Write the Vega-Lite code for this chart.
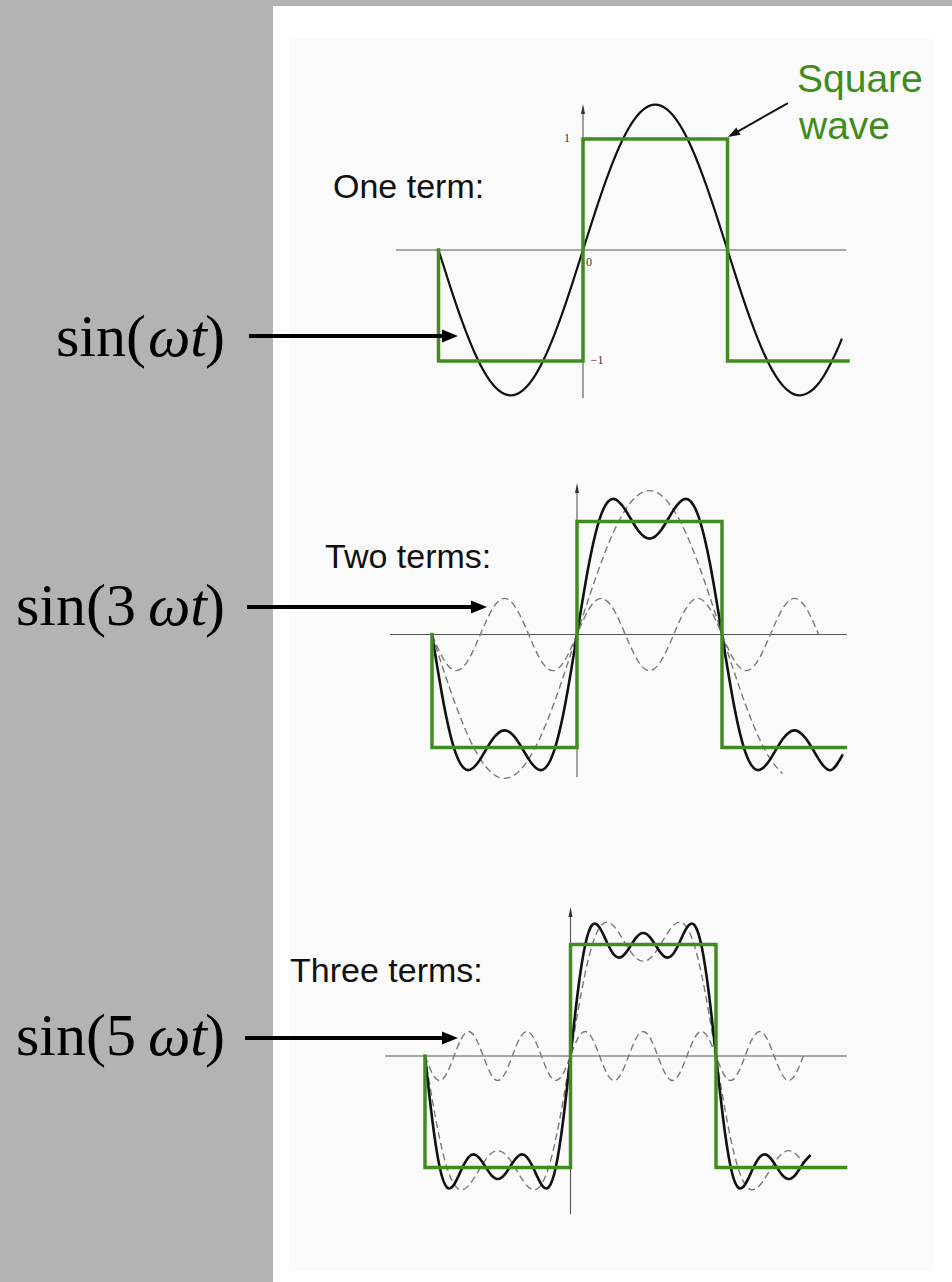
{
"$schema":"https://vega.github.io/schema/vega-lite/v6.json",
"width":952,"height":1282,"padding":0,
"autosize":{"type":"none"},
"background":"#b3b3b3",
"config":{"view":{"stroke":null}},
"resolve":{"scale":{"x":"independent","y":"independent"}},
"layer":[
{
"data":{"values":[
{"s":"bgw","t":-2.1453,"t2":2.5536,"a":2.1982,"a2":-9.2973},
{"s":"bgi","t":-2.0346,"t2":2.4291,"a":1.9099,"a2":-9.1982},
{"s":"hax","t":-1.294,"t2":1.82,"a":0},
{"s":"vax","t":0,"a":-1.333,"a2":1.2703},
{"s":"vh","t":0,"a":1.2703},
{"s":"b","t":-1,"a":0},{"s":"b","t":-0.9167,"a":-0.339},{"s":"b","t":-0.8333,"a":-0.655},{"s":"b","t":-0.75,"a":-0.9263},{"s":"b","t":-0.6667,"a":-1.1345},{"s":"b","t":-0.5833,"a":-1.2653},{"s":"b","t":-0.5,"a":-1.31},{"s":"b","t":-0.4167,"a":-1.2653},{"s":"b","t":-0.3333,"a":-1.1345},{"s":"b","t":-0.25,"a":-0.9263},{"s":"b","t":-0.1667,"a":-0.655},{"s":"b","t":-0.0833,"a":-0.339},
{"s":"b","t":0,"a":0},{"s":"b","t":0.0833,"a":0.339},{"s":"b","t":0.1667,"a":0.655},{"s":"b","t":0.25,"a":0.9263},{"s":"b","t":0.3333,"a":1.1345},{"s":"b","t":0.4167,"a":1.2653},{"s":"b","t":0.5,"a":1.31},{"s":"b","t":0.5833,"a":1.2653},{"s":"b","t":0.6667,"a":1.1345},{"s":"b","t":0.75,"a":0.9263},{"s":"b","t":0.8333,"a":0.655},{"s":"b","t":0.9167,"a":0.339},
{"s":"b","t":1,"a":0},{"s":"b","t":1.0833,"a":-0.339},{"s":"b","t":1.1667,"a":-0.655},{"s":"b","t":1.25,"a":-0.9263},{"s":"b","t":1.3333,"a":-1.1345},{"s":"b","t":1.4167,"a":-1.2653},{"s":"b","t":1.5,"a":-1.31},{"s":"b","t":1.5833,"a":-1.2653},{"s":"b","t":1.6667,"a":-1.1345},{"s":"b","t":1.75,"a":-0.9263},{"s":"b","t":1.7917,"a":-0.7975},
{"s":"g","i":0,"t":-1,"a":0},{"s":"g","i":1,"t":-1,"a":-1},{"s":"g","i":2,"t":0,"a":-1},{"s":"g","i":3,"t":0,"a":1},{"s":"g","i":4,"t":1,"a":1},{"s":"g","i":5,"t":1,"a":-1},{"s":"g","i":6,"t":1.834,"a":-1},
{"s":"title","t":-1.73,"a":0.4685,"label":"One term:"},
{"s":"tick","t":-0.1107,"a":1.009,"label":"1"},
{"s":"tick","t":0.0415,"a":-0.108,"label":"0"},
{"s":"tick","t":0.0969,"a":-0.991,"label":"−1"},
{"s":"l1","t":-3.0242,"a":-0.955,"label":"sin("},
{"s":"l2","t":-3.0104,"a":-0.955,"label":"ωt"},
{"s":"l3","t":-2.6159,"a":-0.955,"label":")"},
{"s":"ar","t":-2.3114,"t2":-0.9204,"a":-0.7748},
{"s":"ah","t":-0.9204,"a":-0.7748},
{"s":"dr","t":1.4187,"a":1.3243,"t2":1.0394,"a2":1.045},
{"s":"dh","t":1.0394,"a":1.045},
{"s":"sq","t":1.481,"a":1.4234,"label":"Square"},
{"s":"sq","t":1.4948,"a":1.0,"label":"wave"}
]},
"encoding":{
"x":{"field":"t","type":"quantitative","scale":{"domain":[-4.0346,2.5536],"nice":false,"zero":false},"axis":null},
"y":{"field":"a","type":"quantitative","scale":{"domain":[-9.2973,2.2523],"nice":false,"zero":false},"axis":null}
},
"layer":[
{"transform":[{"filter":"datum.s==='bgw'"}],"mark":{"type":"rect","color":"#ffffff"},"encoding":{"x2":{"field":"t2"},"y2":{"field":"a2"}}},
{"transform":[{"filter":"datum.s==='bgi'"}],"mark":{"type":"rect","color":"#fafafa"},"encoding":{"x2":{"field":"t2"},"y2":{"field":"a2"}}},
{"transform":[{"filter":"datum.s==='hax'"}],"mark":{"type":"rule","color":"#555555","strokeWidth":1.1},"encoding":{"x2":{"field":"t2"}}},
{"transform":[{"filter":"datum.s==='vax'"}],"mark":{"type":"rule","color":"#555555","strokeWidth":1.1},"encoding":{"y2":{"field":"a2"}}},
{"transform":[{"filter":"datum.s==='vh'"}],"mark":{"type":"point","shape":"M0,-1L0.4,1L-0.4,1Z","size":100,"filled":true,"color":"#333333","opacity":1,"strokeWidth":0}},
{"transform":[{"filter":"datum.s==='b'"}],"mark":{"type":"line","color":"#111111","strokeWidth":2.2,"interpolate":"natural"}},
{"transform":[{"filter":"datum.s==='g'"}],"mark":{"type":"line","color":"#418c20","strokeWidth":3.5,"strokeJoin":"miter","strokeCap":"square"},"encoding":{"order":{"field":"i","type":"quantitative"}}},
{"transform":[{"filter":"datum.s==='title'"}],"mark":{"type":"text","font":"Liberation Sans","fontSize":34,"align":"left","baseline":"alphabetic","color":"#111111"},"encoding":{"text":{"field":"label"}}},
{"transform":[{"filter":"datum.s==='tick'"}],"mark":{"type":"text","font":"Liberation Serif","fontSize":12,"align":"center","baseline":"middle","color":"#333333"},"encoding":{"text":{"field":"label"}}},
{"transform":[{"filter":"datum.s==='sq'"}],"mark":{"type":"text","font":"Liberation Sans","fontSize":39,"align":"left","baseline":"alphabetic","color":"#418c20"},"encoding":{"text":{"field":"label"}}},
{"transform":[{"filter":"datum.s==='l1'"}],"mark":{"type":"text","font":"Liberation Serif","fontSize":60,"align":"right","baseline":"alphabetic","color":"#000000"},"encoding":{"text":{"field":"label"}}},
{"transform":[{"filter":"datum.s==='l2'"}],"mark":{"type":"text","font":"Liberation Serif","fontStyle":"italic","fontSize":60,"align":"left","baseline":"alphabetic","color":"#000000"},"encoding":{"text":{"field":"label"}}},
{"transform":[{"filter":"datum.s==='l3'"}],"mark":{"type":"text","font":"Liberation Serif","fontSize":60,"align":"left","baseline":"alphabetic","color":"#000000"},"encoding":{"text":{"field":"label"}}},
{"transform":[{"filter":"datum.s==='ar'"}],"mark":{"type":"rule","color":"#000000","strokeWidth":4},"encoding":{"x2":{"field":"t2"}}},
{"transform":[{"filter":"datum.s==='ah'"}],"mark":{"type":"point","shape":"M1,0L-1,-0.8L-1,0.8Z","size":256,"filled":true,"color":"#000000","opacity":1,"strokeWidth":0}},
{"transform":[{"filter":"datum.s==='dr'"}],"mark":{"type":"rule","color":"#111111","strokeWidth":2},"encoding":{"x2":{"field":"t2"},"y2":{"field":"a2"}}},
{"transform":[{"filter":"datum.s==='dh'"}],"mark":{"type":"point","shape":"M1,0L-1,-0.7L-1,0.7Z","size":144,"angle":150.4,"filled":true,"color":"#111111","opacity":1,"strokeWidth":0}}
]
},
{
"data":{"values":[
{"s":"hax","t":-1.2897,"t2":1.8621,"a":0},
{"s":"vax","t":0,"a":-1.261,"a2":1.2965},
{"s":"vh","t":0,"a":1.2965},
{"s":"b","t":-1,"a":0},{"s":"b","t":-0.9167,"a":-0.6296},{"s":"b","t":-0.8333,"a":-1.061},{"s":"b","t":-0.75,"a":-1.2004},{"s":"b","t":-0.6667,"a":-1.1026},{"s":"b","t":-0.5833,"a":-0.9297},{"s":"b","t":-0.5,"a":-0.8488},{"s":"b","t":-0.4167,"a":-0.9297},{"s":"b","t":-0.3333,"a":-1.1026},{"s":"b","t":-0.25,"a":-1.2004},{"s":"b","t":-0.1667,"a":-1.061},{"s":"b","t":-0.0833,"a":-0.6296},
{"s":"b","t":0,"a":0},{"s":"b","t":0.0833,"a":0.6296},{"s":"b","t":0.1667,"a":1.061},{"s":"b","t":0.25,"a":1.2004},{"s":"b","t":0.3333,"a":1.1026},{"s":"b","t":0.4167,"a":0.9297},{"s":"b","t":0.5,"a":0.8488},{"s":"b","t":0.5833,"a":0.9297},{"s":"b","t":0.6667,"a":1.1026},{"s":"b","t":0.75,"a":1.2004},{"s":"b","t":0.8333,"a":1.061},{"s":"b","t":0.9167,"a":0.6296},
{"s":"b","t":1,"a":0},{"s":"b","t":1.0833,"a":-0.6296},{"s":"b","t":1.1667,"a":-1.061},{"s":"b","t":1.25,"a":-1.2004},{"s":"b","t":1.3333,"a":-1.1026},{"s":"b","t":1.4167,"a":-0.9297},{"s":"b","t":1.5,"a":-0.8488},{"s":"b","t":1.5833,"a":-0.9297},{"s":"b","t":1.6667,"a":-1.1026},{"s":"b","t":1.75,"a":-1.2004},{"s":"b","t":1.8333,"a":-1.061},
{"s":"d1","t":-1,"a":0},{"s":"d1","t":-0.9167,"a":-0.3295},{"s":"d1","t":-0.8333,"a":-0.6366},{"s":"d1","t":-0.75,"a":-0.9003},{"s":"d1","t":-0.6667,"a":-1.1026},{"s":"d1","t":-0.5833,"a":-1.2298},{"s":"d1","t":-0.5,"a":-1.2732},{"s":"d1","t":-0.4167,"a":-1.2298},{"s":"d1","t":-0.3333,"a":-1.1026},{"s":"d1","t":-0.25,"a":-0.9003},{"s":"d1","t":-0.1667,"a":-0.6366},{"s":"d1","t":-0.0833,"a":-0.3295},
{"s":"d1","t":0,"a":0},{"s":"d1","t":0.0833,"a":0.3295},{"s":"d1","t":0.1667,"a":0.6366},{"s":"d1","t":0.25,"a":0.9003},{"s":"d1","t":0.3333,"a":1.1026},{"s":"d1","t":0.4167,"a":1.2298},{"s":"d1","t":0.5,"a":1.2732},{"s":"d1","t":0.5833,"a":1.2298},{"s":"d1","t":0.6667,"a":1.1026},{"s":"d1","t":0.75,"a":0.9003},{"s":"d1","t":0.8333,"a":0.6366},{"s":"d1","t":0.9167,"a":0.3295},
{"s":"d1","t":1,"a":0},{"s":"d1","t":1.0833,"a":-0.3295},{"s":"d1","t":1.1667,"a":-0.6366},{"s":"d1","t":1.25,"a":-0.9003},{"s":"d1","t":1.3333,"a":-1.1026},{"s":"d1","t":1.4167,"a":-1.2298},
{"s":"d3","t":-1,"a":0},{"s":"d3","t":-0.9167,"a":-0.2263},{"s":"d3","t":-0.8333,"a":-0.32},{"s":"d3","t":-0.75,"a":-0.2263},{"s":"d3","t":-0.6667,"a":0},{"s":"d3","t":-0.5833,"a":0.2263},{"s":"d3","t":-0.5,"a":0.32},{"s":"d3","t":-0.4167,"a":0.2263},{"s":"d3","t":-0.3333,"a":0},{"s":"d3","t":-0.25,"a":-0.2263},{"s":"d3","t":-0.1667,"a":-0.32},{"s":"d3","t":-0.0833,"a":-0.2263},
{"s":"d3","t":0,"a":0},{"s":"d3","t":0.0833,"a":0.2263},{"s":"d3","t":0.1667,"a":0.32},{"s":"d3","t":0.25,"a":0.2263},{"s":"d3","t":0.3333,"a":0},{"s":"d3","t":0.4167,"a":-0.2263},{"s":"d3","t":0.5,"a":-0.32},{"s":"d3","t":0.5833,"a":-0.2263},{"s":"d3","t":0.6667,"a":0},{"s":"d3","t":0.75,"a":0.2263},{"s":"d3","t":0.8333,"a":0.32},{"s":"d3","t":0.9167,"a":0.2263},
{"s":"d3","t":1,"a":0},{"s":"d3","t":1.0833,"a":-0.2263},{"s":"d3","t":1.1667,"a":-0.32},{"s":"d3","t":1.25,"a":-0.2263},{"s":"d3","t":1.3333,"a":0},{"s":"d3","t":1.4167,"a":0.2263},{"s":"d3","t":1.5,"a":0.32},{"s":"d3","t":1.5833,"a":0.2263},{"s":"d3","t":1.6667,"a":0},
{"s":"g","i":0,"t":-1,"a":0},{"s":"g","i":1,"t":-1,"a":-1},{"s":"g","i":2,"t":0,"a":-1},{"s":"g","i":3,"t":0,"a":1},{"s":"g","i":4,"t":1,"a":1},{"s":"g","i":5,"t":1,"a":-1},{"s":"g","i":6,"t":1.85,"a":-1},
{"s":"title","t":-1.7379,"a":0.5885,"label":"Two terms:"},
{"s":"l1","t":-3.0414,"a":0.0841,"label":"sin(3"},
{"s":"l2","t":-2.9586,"a":0.0841,"label":"ωt"},
{"s":"l3","t":-2.5655,"a":0.0841,"label":")"},
{"s":"ar","t":-2.2759,"t2":-0.6759,"a":0.2434},
{"s":"ah","t":-0.6759,"a":0.2434}
]},
"encoding":{
"x":{"field":"t","type":"quantitative","scale":{"domain":[-3.9793,2.5862],"nice":false,"zero":false},"axis":null},
"y":{"field":"a","type":"quantitative","scale":{"domain":[-5.7301,5.615],"nice":false,"zero":false},"axis":null}
},
"layer":[
{"transform":[{"filter":"datum.s==='hax'"}],"mark":{"type":"rule","color":"#555555","strokeWidth":1.1},"encoding":{"x2":{"field":"t2"}}},
{"transform":[{"filter":"datum.s==='vax'"}],"mark":{"type":"rule","color":"#555555","strokeWidth":1.1},"encoding":{"y2":{"field":"a2"}}},
{"transform":[{"filter":"datum.s==='vh'"}],"mark":{"type":"point","shape":"M0,-1L0.4,1L-0.4,1Z","size":100,"filled":true,"color":"#333333","opacity":1,"strokeWidth":0}},
{"transform":[{"filter":"datum.s==='d1'"}],"mark":{"type":"line","color":"#7a7a7a","strokeWidth":1.4,"strokeDash":[7,4],"interpolate":"natural"}},
{"transform":[{"filter":"datum.s==='d3'"}],"mark":{"type":"line","color":"#7a7a7a","strokeWidth":1.4,"strokeDash":[7,4],"interpolate":"natural"}},
{"transform":[{"filter":"datum.s==='b'"}],"mark":{"type":"line","color":"#111111","strokeWidth":2.6,"interpolate":"natural"}},
{"transform":[{"filter":"datum.s==='g'"}],"mark":{"type":"line","color":"#418c20","strokeWidth":3.5,"strokeJoin":"miter","strokeCap":"square"},"encoding":{"order":{"field":"i","type":"quantitative"}}},
{"transform":[{"filter":"datum.s==='title'"}],"mark":{"type":"text","font":"Liberation Sans","fontSize":34,"align":"left","baseline":"alphabetic","color":"#111111"},"encoding":{"text":{"field":"label"}}},
{"transform":[{"filter":"datum.s==='l1'"}],"mark":{"type":"text","font":"Liberation Serif","fontSize":60,"align":"right","baseline":"alphabetic","color":"#000000"},"encoding":{"text":{"field":"label"}}},
{"transform":[{"filter":"datum.s==='l2'"}],"mark":{"type":"text","font":"Liberation Serif","fontStyle":"italic","fontSize":60,"align":"left","baseline":"alphabetic","color":"#000000"},"encoding":{"text":{"field":"label"}}},
{"transform":[{"filter":"datum.s==='l3'"}],"mark":{"type":"text","font":"Liberation Serif","fontSize":60,"align":"left","baseline":"alphabetic","color":"#000000"},"encoding":{"text":{"field":"label"}}},
{"transform":[{"filter":"datum.s==='ar'"}],"mark":{"type":"rule","color":"#000000","strokeWidth":4},"encoding":{"x2":{"field":"t2"}}},
{"transform":[{"filter":"datum.s==='ah'"}],"mark":{"type":"point","shape":"M1,0L-1,-0.8L-1,0.8Z","size":256,"filled":true,"color":"#000000","opacity":1,"strokeWidth":0}}
]
},
{
"data":{"values":[
{"s":"hax","t":-1.2749,"t2":1.9003,"a":0},
{"s":"vax","t":0,"a":-1.417,"a2":1.2915},
{"s":"vh","t":0,"a":1.2915},
{"s":"b","t":-1,"a":0},{"s":"b","t":-0.95,"a":-0.5718},{"s":"b","t":-0.9,"a":-0.9914},{"s":"b","t":-0.85,"a":-1.1772},{"s":"b","t":-0.8,"a":-1.152},{"s":"b","t":-0.75,"a":-1.0203},{"s":"b","t":-0.7,"a":-0.9065},{"s":"b","t":-0.65,"a":-0.8881},{"s":"b","t":-0.6,"a":-0.9615},{"s":"b","t":-0.55,"a":-1.0594},{"s":"b","t":-0.5,"a":-1.1035},{"s":"b","t":-0.45,"a":-1.0594},{"s":"b","t":-0.4,"a":-0.9615},{"s":"b","t":-0.35,"a":-0.8881},{"s":"b","t":-0.3,"a":-0.9065},{"s":"b","t":-0.25,"a":-1.0203},{"s":"b","t":-0.2,"a":-1.152},{"s":"b","t":-0.15,"a":-1.1772},{"s":"b","t":-0.1,"a":-0.9914},{"s":"b","t":-0.05,"a":-0.5718},
{"s":"b","t":0,"a":0},{"s":"b","t":0.05,"a":0.5718},{"s":"b","t":0.1,"a":0.9914},{"s":"b","t":0.15,"a":1.1772},{"s":"b","t":0.2,"a":1.152},{"s":"b","t":0.25,"a":1.0203},{"s":"b","t":0.3,"a":0.9065},{"s":"b","t":0.35,"a":0.8881},{"s":"b","t":0.4,"a":0.9615},{"s":"b","t":0.45,"a":1.0594},{"s":"b","t":0.5,"a":1.1035},{"s":"b","t":0.55,"a":1.0594},{"s":"b","t":0.6,"a":0.9615},{"s":"b","t":0.65,"a":0.8881},{"s":"b","t":0.7,"a":0.9065},{"s":"b","t":0.75,"a":1.0203},{"s":"b","t":0.8,"a":1.152},{"s":"b","t":0.85,"a":1.1772},{"s":"b","t":0.9,"a":0.9914},{"s":"b","t":0.95,"a":0.5718},
{"s":"b","t":1,"a":0},{"s":"b","t":1.05,"a":-0.5718},{"s":"b","t":1.1,"a":-0.9914},{"s":"b","t":1.15,"a":-1.1772},{"s":"b","t":1.2,"a":-1.152},{"s":"b","t":1.25,"a":-1.0203},{"s":"b","t":1.3,"a":-0.9065},{"s":"b","t":1.35,"a":-0.8881},{"s":"b","t":1.4,"a":-0.9615},{"s":"b","t":1.45,"a":-1.0594},{"s":"b","t":1.5,"a":-1.1035},{"s":"b","t":1.55,"a":-1.0594},{"s":"b","t":1.6,"a":-0.9615},{"s":"b","t":1.65,"a":-0.8881},
{"s":"d2","t":-1,"a":0},{"s":"d2","t":-0.95,"a":-0.3918},{"s":"d2","t":-0.9,"a":-0.7368},{"s":"d2","t":-0.85,"a":-0.9972},{"s":"d2","t":-0.8,"a":-1.152},{"s":"d2","t":-0.75,"a":-1.2004},{"s":"d2","t":-0.7,"a":-1.1612},{"s":"d2","t":-0.65,"a":-1.0681},{"s":"d2","t":-0.6,"a":-0.9615},{"s":"d2","t":-0.55,"a":-0.8794},{"s":"d2","t":-0.5,"a":-0.8488},{"s":"d2","t":-0.45,"a":-0.8794},{"s":"d2","t":-0.4,"a":-0.9615},{"s":"d2","t":-0.35,"a":-1.0681},{"s":"d2","t":-0.3,"a":-1.1612},{"s":"d2","t":-0.25,"a":-1.2004},{"s":"d2","t":-0.2,"a":-1.152},{"s":"d2","t":-0.15,"a":-0.9972},{"s":"d2","t":-0.1,"a":-0.7368},{"s":"d2","t":-0.05,"a":-0.3918},
{"s":"d2","t":0,"a":0},{"s":"d2","t":0.05,"a":0.3918},{"s":"d2","t":0.1,"a":0.7368},{"s":"d2","t":0.15,"a":0.9972},{"s":"d2","t":0.2,"a":1.152},{"s":"d2","t":0.25,"a":1.2004},{"s":"d2","t":0.3,"a":1.1612},{"s":"d2","t":0.35,"a":1.0681},{"s":"d2","t":0.4,"a":0.9615},{"s":"d2","t":0.45,"a":0.8794},{"s":"d2","t":0.5,"a":0.8488},{"s":"d2","t":0.55,"a":0.8794},{"s":"d2","t":0.6,"a":0.9615},{"s":"d2","t":0.65,"a":1.0681},{"s":"d2","t":0.7,"a":1.1612},{"s":"d2","t":0.75,"a":1.2004},{"s":"d2","t":0.8,"a":1.152},{"s":"d2","t":0.85,"a":0.9972},{"s":"d2","t":0.9,"a":0.7368},{"s":"d2","t":0.95,"a":0.3918},
{"s":"d2","t":1,"a":0},{"s":"d2","t":1.05,"a":-0.3918},{"s":"d2","t":1.1,"a":-0.7368},{"s":"d2","t":1.15,"a":-0.9972},{"s":"d2","t":1.2,"a":-1.152},{"s":"d2","t":1.25,"a":-1.2004},{"s":"d2","t":1.3,"a":-1.1612},{"s":"d2","t":1.35,"a":-1.0681},{"s":"d2","t":1.4,"a":-0.9615},{"s":"d2","t":1.45,"a":-0.8794},{"s":"d2","t":1.5,"a":-0.8488},{"s":"d2","t":1.55,"a":-0.8794},{"s":"d2","t":1.6,"a":-0.9615},
{"s":"d5","t":-1,"a":0},{"s":"d5","t":-0.95,"a":-0.1556},{"s":"d5","t":-0.9,"a":-0.22},{"s":"d5","t":-0.85,"a":-0.1556},{"s":"d5","t":-0.8,"a":0},{"s":"d5","t":-0.75,"a":0.1556},{"s":"d5","t":-0.7,"a":0.22},{"s":"d5","t":-0.65,"a":0.1556},{"s":"d5","t":-0.6,"a":0},{"s":"d5","t":-0.55,"a":-0.1556},{"s":"d5","t":-0.5,"a":-0.22},{"s":"d5","t":-0.45,"a":-0.1556},{"s":"d5","t":-0.4,"a":0},{"s":"d5","t":-0.35,"a":0.1556},{"s":"d5","t":-0.3,"a":0.22},{"s":"d5","t":-0.25,"a":0.1556},{"s":"d5","t":-0.2,"a":0},{"s":"d5","t":-0.15,"a":-0.1556},{"s":"d5","t":-0.1,"a":-0.22},{"s":"d5","t":-0.05,"a":-0.1556},
{"s":"d5","t":0,"a":0},{"s":"d5","t":0.05,"a":0.1556},{"s":"d5","t":0.1,"a":0.22},{"s":"d5","t":0.15,"a":0.1556},{"s":"d5","t":0.2,"a":0},{"s":"d5","t":0.25,"a":-0.1556},{"s":"d5","t":0.3,"a":-0.22},{"s":"d5","t":0.35,"a":-0.1556},{"s":"d5","t":0.4,"a":0},{"s":"d5","t":0.45,"a":0.1556},{"s":"d5","t":0.5,"a":0.22},{"s":"d5","t":0.55,"a":0.1556},{"s":"d5","t":0.6,"a":0},{"s":"d5","t":0.65,"a":-0.1556},{"s":"d5","t":0.7,"a":-0.22},{"s":"d5","t":0.75,"a":-0.1556},{"s":"d5","t":0.8,"a":0},{"s":"d5","t":0.85,"a":0.1556},{"s":"d5","t":0.9,"a":0.22},{"s":"d5","t":0.95,"a":0.1556},
{"s":"d5","t":1,"a":0},{"s":"d5","t":1.05,"a":-0.1556},{"s":"d5","t":1.1,"a":-0.22},{"s":"d5","t":1.15,"a":-0.1556},{"s":"d5","t":1.2,"a":0},{"s":"d5","t":1.25,"a":0.1556},{"s":"d5","t":1.3,"a":0.22},{"s":"d5","t":1.35,"a":0.1556},{"s":"d5","t":1.4,"a":0},{"s":"d5","t":1.45,"a":-0.1556},{"s":"d5","t":1.5,"a":-0.22},{"s":"d5","t":1.55,"a":-0.1556},{"s":"d5","t":1.6,"a":0},
{"s":"g","i":0,"t":-1,"a":0},{"s":"g","i":1,"t":-1,"a":-1},{"s":"g","i":2,"t":0,"a":-1},{"s":"g","i":3,"t":0,"a":1},{"s":"g","i":4,"t":1,"a":1},{"s":"g","i":5,"t":1,"a":-1},{"s":"g","i":6,"t":1.89,"a":-1},
{"s":"title","t":-1.9278,"a":0.6637,"label":"Three terms:"},
{"s":"l1","t":-2.9863,"a":0.009,"label":"sin(5"},
{"s":"l2","t":-2.9038,"a":0.009,"label":"ωt"},
{"s":"l3","t":-2.512,"a":0.009,"label":")"},
{"s":"ar","t":-2.2371,"t2":-0.8282,"a":0.1614},
{"s":"ah","t":-0.8282,"a":0.1614}
]},
"encoding":{
"x":{"field":"t","type":"quantitative","scale":{"domain":[-3.921,2.622],"nice":false,"zero":false},"axis":null},
"y":{"field":"a","type":"quantitative","scale":{"domain":[-2.0269,9.4709],"nice":false,"zero":false},"axis":null}
},
"layer":[
{"transform":[{"filter":"datum.s==='hax'"}],"mark":{"type":"rule","color":"#555555","strokeWidth":1.1},"encoding":{"x2":{"field":"t2"}}},
{"transform":[{"filter":"datum.s==='vax'"}],"mark":{"type":"rule","color":"#555555","strokeWidth":1.1},"encoding":{"y2":{"field":"a2"}}},
{"transform":[{"filter":"datum.s==='vh'"}],"mark":{"type":"point","shape":"M0,-1L0.4,1L-0.4,1Z","size":100,"filled":true,"color":"#333333","opacity":1,"strokeWidth":0}},
{"transform":[{"filter":"datum.s==='d2'"}],"mark":{"type":"line","color":"#7a7a7a","strokeWidth":1.4,"strokeDash":[7,4],"interpolate":"natural"}},
{"transform":[{"filter":"datum.s==='d5'"}],"mark":{"type":"line","color":"#7a7a7a","strokeWidth":1.4,"strokeDash":[7,4],"interpolate":"natural"}},
{"transform":[{"filter":"datum.s==='b'"}],"mark":{"type":"line","color":"#111111","strokeWidth":2.6,"interpolate":"natural"}},
{"transform":[{"filter":"datum.s==='g'"}],"mark":{"type":"line","color":"#418c20","strokeWidth":3.5,"strokeJoin":"miter","strokeCap":"square"},"encoding":{"order":{"field":"i","type":"quantitative"}}},
{"transform":[{"filter":"datum.s==='title'"}],"mark":{"type":"text","font":"Liberation Sans","fontSize":34,"align":"left","baseline":"alphabetic","color":"#111111"},"encoding":{"text":{"field":"label"}}},
{"transform":[{"filter":"datum.s==='l1'"}],"mark":{"type":"text","font":"Liberation Serif","fontSize":60,"align":"right","baseline":"alphabetic","color":"#000000"},"encoding":{"text":{"field":"label"}}},
{"transform":[{"filter":"datum.s==='l2'"}],"mark":{"type":"text","font":"Liberation Serif","fontStyle":"italic","fontSize":60,"align":"left","baseline":"alphabetic","color":"#000000"},"encoding":{"text":{"field":"label"}}},
{"transform":[{"filter":"datum.s==='l3'"}],"mark":{"type":"text","font":"Liberation Serif","fontSize":60,"align":"left","baseline":"alphabetic","color":"#000000"},"encoding":{"text":{"field":"label"}}},
{"transform":[{"filter":"datum.s==='ar'"}],"mark":{"type":"rule","color":"#000000","strokeWidth":4},"encoding":{"x2":{"field":"t2"}}},
{"transform":[{"filter":"datum.s==='ah'"}],"mark":{"type":"point","shape":"M1,0L-1,-0.8L-1,0.8Z","size":256,"filled":true,"color":"#000000","opacity":1,"strokeWidth":0}}
]
}
]
}
